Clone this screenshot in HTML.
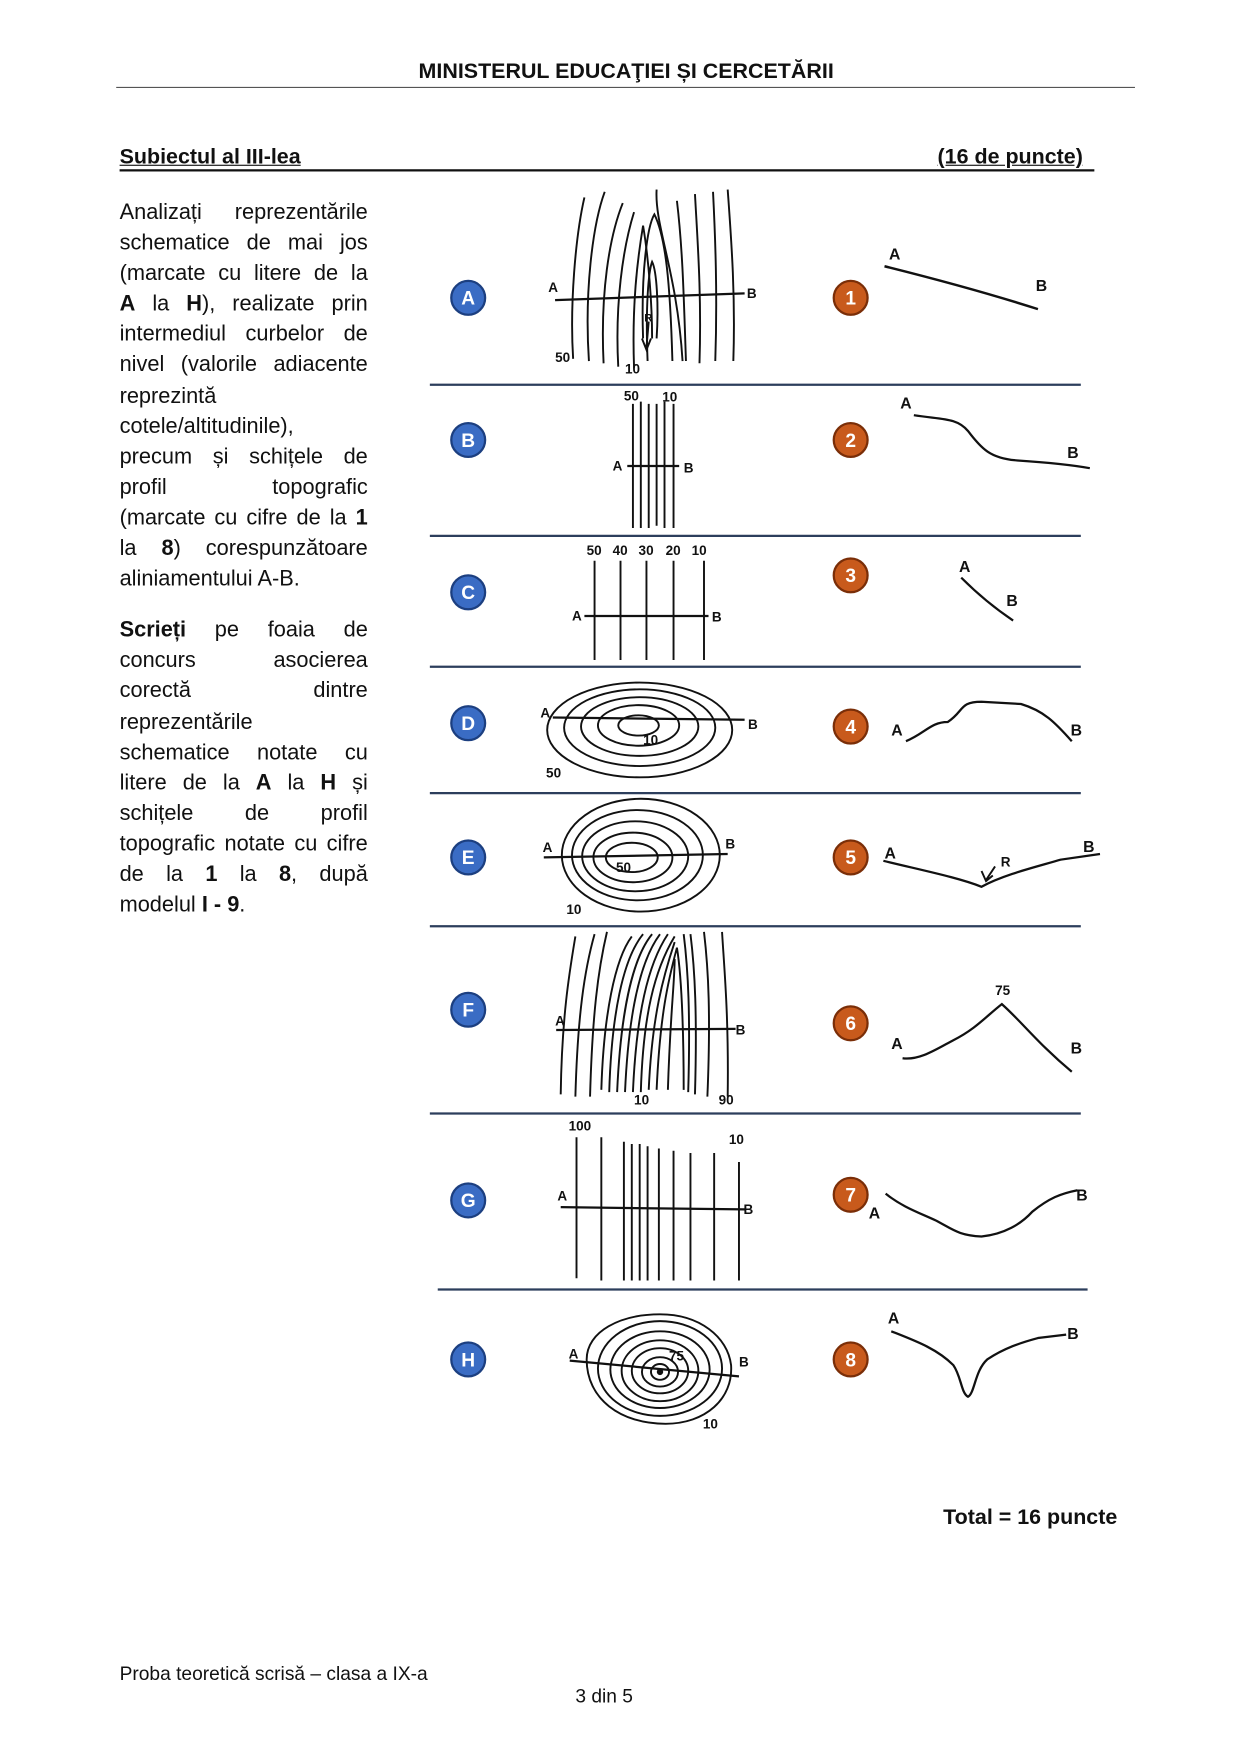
<!DOCTYPE html>
<html><head><meta charset="utf-8"><style>
html,body{margin:0;padding:0;background:#fff;}
body{width:1241px;height:1755px;overflow:hidden;position:relative;}
#pg{position:absolute;left:0;top:0;width:1100px;height:1556px;transform:scale(1.1282);transform-origin:0 0;font-family:"Liberation Sans",sans-serif;color:#111;}
.t{position:absolute;white-space:nowrap;}
.col{position:absolute;left:106px;top:175px;width:220px;font-size:19.3px;line-height:27.1px;}
.col div{text-align:justify;text-align-last:justify;white-space:nowrap;}
.col div.l{text-align-last:left;}
svg{position:absolute;left:0;top:0;}
svg text{font-family:"Liberation Sans",sans-serif;font-weight:bold;}
</style></head><body><div id="pg">
<div class="t" style="left:0;width:1110px;text-align:center;top:53px;font-size:19px;font-weight:bold;">MINISTERUL EDUCAŢIEI ȘI CERCETĂRII</div>
<div style="position:absolute;left:103px;top:77px;width:903px;height:1px;background:#555;"></div>
<div class="t" style="left:106px;top:129px;font-size:19px;font-weight:bold;text-decoration:underline;">Subiectul al III-lea</div>
<div class="t" style="left:831px;top:129px;font-size:19px;font-weight:bold;text-decoration:underline;">(16 de puncte)</div>
<div style="position:absolute;left:106px;top:150px;width:864px;height:2px;background:#111;"></div>
<div class="col">
<div>Analizați reprezentările</div>
<div>schematice de mai jos</div>
<div>(marcate cu litere de la</div>
<div><b>A</b> la <b>H</b>), realizate prin</div>
<div>intermediul curbelor de</div>
<div>nivel (valorile adiacente</div>
<div class="l">reprezintă</div>
<div class="l">cotele/altitudinile),</div>
<div>precum și schițele de</div>
<div>profil topografic</div>
<div>(marcate cu cifre de la <b>1</b></div>
<div>la <b>8</b>) corespunzătoare</div>
<div class="l">aliniamentului A-B.</div>
<div style="height:18px"></div>
<div><b>Scrieți</b> pe foaia de</div>
<div>concurs asocierea</div>
<div>corectă dintre</div>
<div class="l">reprezentările</div>
<div>schematice notate cu</div>
<div>litere de la <b>A</b> la <b>H</b> și</div>
<div>schițele de profil</div>
<div>topografic notate cu cifre</div>
<div>de la <b>1</b> la <b>8</b>, după</div>
<div class="l">modelul <b>I - 9</b>.</div>
</div>
<div class="t" style="left:836px;top:1335px;font-size:19px;font-weight:bold;">Total = 16 puncte</div>
<div class="t" style="left:106px;top:1474px;font-size:17px;">Proba teoretică scrisă – clasa a IX-a</div>
<div class="t" style="left:510px;top:1494px;font-size:17px;">3 din 5</div>
<svg width="1100" height="1556" viewBox="0 0 1100 1556">
<g stroke="#2c3e5c" stroke-width="2">
<line x1="381" y1="341" x2="958" y2="341"/><line x1="381" y1="475" x2="958" y2="475"/>
<line x1="381" y1="591" x2="958" y2="591"/><line x1="381" y1="703" x2="958" y2="703"/>
<line x1="381" y1="821" x2="958" y2="821"/><line x1="381" y1="987" x2="958" y2="987"/>
<line x1="388" y1="1143" x2="964" y2="1143"/>
</g>
<g font-size="13" fill="#fff" text-anchor="middle">
<g stroke="#1c3f80" stroke-width="2" fill="#3a6cc4">
<circle cx="415" cy="264" r="15"/><circle cx="415" cy="390" r="15"/><circle cx="415" cy="525" r="15"/><circle cx="415" cy="641" r="15"/><circle cx="415" cy="760" r="15"/><circle cx="415" cy="895" r="15"/><circle cx="415" cy="1064" r="15"/><circle cx="415" cy="1205" r="15"/>
</g>
<g stroke="#7a2e08" stroke-width="2" fill="#c85a1c">
<circle cx="754" cy="264" r="15"/><circle cx="754" cy="390" r="15"/><circle cx="754" cy="510" r="15"/><circle cx="754" cy="644" r="15"/><circle cx="754" cy="760" r="15"/><circle cx="754" cy="907" r="15"/><circle cx="754" cy="1059" r="15"/><circle cx="754" cy="1205" r="15"/>
</g>
<g font-size="17"><text x="415" y="270">A</text><text x="415" y="396">B</text><text x="415" y="531">C</text><text x="415" y="647">D</text><text x="415" y="766">E</text><text x="415" y="901">F</text><text x="415" y="1070">G</text><text x="415" y="1211">H</text>
<text x="754" y="270">1</text><text x="754" y="396">2</text><text x="754" y="516">3</text><text x="754" y="650">4</text><text x="754" y="766">5</text><text x="754" y="913">6</text><text x="754" y="1065">7</text><text x="754" y="1211">8</text></g>
</g>
<g fill="none" stroke="#111" stroke-width="1.7">
<!-- A -->
<path d="M508 318 C505 270 510 210 518 175"/><path d="M522 320 C518 260 525 200 536 170"/><path d="M535 322 C532 260 540 210 552 180"/><path d="M548 325 C545 270 552 220 562 188"/>
<path d="M562 326 C560 270 565 230 570 200 C575 230 578 270 578 300"/><path d="M574 320 C572 270 575 240 578 232 C582 240 584 270 582 300"/>
<path d="M570 300 C568 240 574 200 580 190 C590 210 594 250 596 320"/>
<path d="M582 168 C580 200 600 240 605 320"/><path d="M608 320 C606 260 605 220 600 178"/><path d="M620 322 C622 260 618 210 616 172"/><path d="M634 320 C636 260 634 210 632 170"/><path d="M650 320 C652 260 648 210 645 168"/>
<line x1="492" y1="266" x2="660" y2="260" stroke-width="2"/>
<path d="M575 285 L573 308 M569 300 L573 310 L577 300"/>
<!-- 1 -->
<path d="M784 236 C820 245 870 258 920 274" stroke-width="2.2"/>
<!-- B -->
<path d="M561 358 L561 468 M568 356 L568 468 M575 358 L575 468 M582 358 L582 466 M589 356 L589 468 M597 358 L597 468"/>
<line x1="556" y1="413" x2="602" y2="413" stroke-width="2"/>
<!-- 2 -->
<path d="M810 368 C835 372 848 370 858 382 C870 398 878 406 900 408 C930 410 950 412 966 415" stroke-width="2"/>
<!-- C -->
<path d="M527 497 L527 585 M550 497 L550 585 M573 497 L573 585 M597 497 L597 585 M624 497 L624 585"/>
<line x1="518" y1="546" x2="628" y2="546" stroke-width="2"/>
<!-- 3 -->
<path d="M852 512 C865 525 880 538 898 550" stroke-width="2"/>
<!-- D -->
<ellipse cx="567" cy="647" rx="82" ry="42"/><ellipse cx="567" cy="645" rx="67" ry="34"/><ellipse cx="567" cy="644" rx="52" ry="26"/><ellipse cx="566" cy="643" rx="36" ry="18"/><ellipse cx="566" cy="643" rx="18" ry="9"/>
<line x1="490" y1="636" x2="660" y2="638" stroke-width="2"/>
<!-- 4 -->
<path d="M803 657 C820 650 825 640 840 640 C855 630 850 622 870 622 L905 624 C925 630 935 640 950 657" stroke-width="2"/>
<!-- E -->
<ellipse cx="568" cy="758" rx="70" ry="50"/><ellipse cx="565" cy="758" rx="58" ry="40"/><ellipse cx="563" cy="759" rx="47" ry="31"/><ellipse cx="561" cy="760" rx="35" ry="22"/><ellipse cx="560" cy="760" rx="23" ry="13"/>
<line x1="482" y1="760" x2="645" y2="757" stroke-width="2"/>
<!-- 5 -->
<path d="M783 763 C820 772 850 778 870 786 C890 775 920 768 940 762 L975 757" stroke-width="2"/>
<path d="M882 768 L874 780 M870 772 L874 781 L880 776"/>
<!-- F -->
<path d="M497 970 C498 900 505 860 510 830"/><path d="M510 972 C512 900 518 860 527 828"/><path d="M523 972 C525 900 530 860 538 826"/>
<path d="M533 966 C535 900 545 850 560 830"/><path d="M540 968 C542 900 552 850 570 828"/><path d="M547 968 C550 900 560 850 578 828"/><path d="M554 968 C557 900 567 852 585 828"/><path d="M561 968 C564 900 574 855 592 828"/><path d="M568 968 C570 900 580 860 598 830"/><path d="M575 966 C578 900 588 865 598 835"/><path d="M582 966 C585 900 592 870 600 840 C605 870 606 930 606 966"/><path d="M592 966 C594 900 598 870 598 850"/>
<path d="M610 968 C612 900 610 860 606 828"/><path d="M616 970 C618 900 616 860 612 828"/><path d="M627 972 C630 900 628 860 624 826"/><path d="M645 972 C646 900 642 860 640 826"/>
<line x1="493" y1="913" x2="652" y2="912" stroke-width="2"/>
<!-- 6 -->
<path d="M800 938 C815 940 830 930 845 922 C865 912 875 900 888 890 C905 905 920 925 950 950" stroke-width="2"/>
<!-- G -->
<path d="M511 1008 L511 1133 M533 1008 L533 1135 M553 1012 L553 1135 M560 1014 L560 1135 M567 1014 L567 1135 M574 1016 L574 1135 M584 1018 L584 1135 M597 1020 L597 1135 M612 1022 L612 1135 M633 1022 L633 1135 M655 1030 L655 1135"/>
<line x1="497" y1="1070" x2="660" y2="1072" stroke-width="2"/>
<!-- 7 -->
<path d="M785 1058 C800 1070 815 1075 830 1082 C845 1090 850 1095 870 1096 C890 1094 905 1085 915 1074 C930 1062 940 1058 955 1055" stroke-width="2"/>
<!-- H -->
<path d="M520 1205 C520 1180 550 1165 585 1165 C620 1165 645 1185 648 1210 C650 1240 625 1262 590 1262 C550 1262 520 1240 520 1205Z"/>
<ellipse cx="585" cy="1213" rx="55" ry="42"/><ellipse cx="585" cy="1214" rx="44" ry="34"/><ellipse cx="585" cy="1215" rx="34" ry="27"/><ellipse cx="585" cy="1215" rx="25" ry="20"/><ellipse cx="585" cy="1216" rx="16" ry="13"/><ellipse cx="585" cy="1216" rx="8" ry="7"/>
<circle cx="585" cy="1216" r="2" fill="#111"/>
<line x1="505" y1="1206" x2="655" y2="1220" stroke-width="2"/>
<!-- 8 -->
<path d="M790 1180 C810 1188 830 1195 845 1210 C852 1220 852 1235 858 1238 C864 1235 864 1215 875 1205 C890 1195 905 1190 920 1186 L945 1183" stroke-width="2"/>
</g>
<g font-size="12" fill="#111">
<text x="486" y="259">A</text><text x="662" y="264">B</text><text x="492" y="321">50</text><text x="554" y="331">10</text><text x="571" y="285" font-size="10">R</text>
<text x="788" y="230" font-size="14">A</text><text x="918" y="258" font-size="14">B</text>
<text x="553" y="355">50</text><text x="587" y="356">10</text><text x="543" y="417">A</text><text x="606" y="419">B</text>
<text x="798" y="362" font-size="14">A</text><text x="946" y="406" font-size="14">B</text>
<text x="520" y="492">50</text><text x="543" y="492">40</text><text x="566" y="492">30</text><text x="590" y="492">20</text><text x="613" y="492">10</text>
<text x="507" y="550">A</text><text x="631" y="551">B</text>
<text x="850" y="507" font-size="14">A</text><text x="892" y="537" font-size="14">B</text>
<text x="479" y="636">A</text><text x="663" y="646">B</text><text x="570" y="660">10</text><text x="484" y="689">50</text>
<text x="790" y="652" font-size="14">A</text><text x="949" y="652" font-size="14">B</text>
<text x="481" y="755">A</text><text x="643" y="752">B</text><text x="546" y="773">50</text><text x="502" y="810">10</text>
<text x="784" y="761" font-size="14">A</text><text x="960" y="755" font-size="14">B</text><text x="887" y="768">R</text>
<text x="492" y="909">A</text><text x="652" y="917">B</text><text x="562" y="979">10</text><text x="637" y="979">90</text>
<text x="882" y="882">75</text><text x="790" y="930" font-size="14">A</text><text x="949" y="934" font-size="14">B</text>
<text x="504" y="1002">100</text><text x="646" y="1014">10</text><text x="494" y="1064">A</text><text x="659" y="1076">B</text>
<text x="770" y="1080" font-size="14">A</text><text x="954" y="1064" font-size="14">B</text>
<text x="504" y="1204">A</text><text x="593" y="1206">75</text><text x="655" y="1211">B</text><text x="623" y="1266">10</text>
<text x="787" y="1173" font-size="14">A</text><text x="946" y="1187" font-size="14">B</text>
</g>
</svg>
</div></body></html>
